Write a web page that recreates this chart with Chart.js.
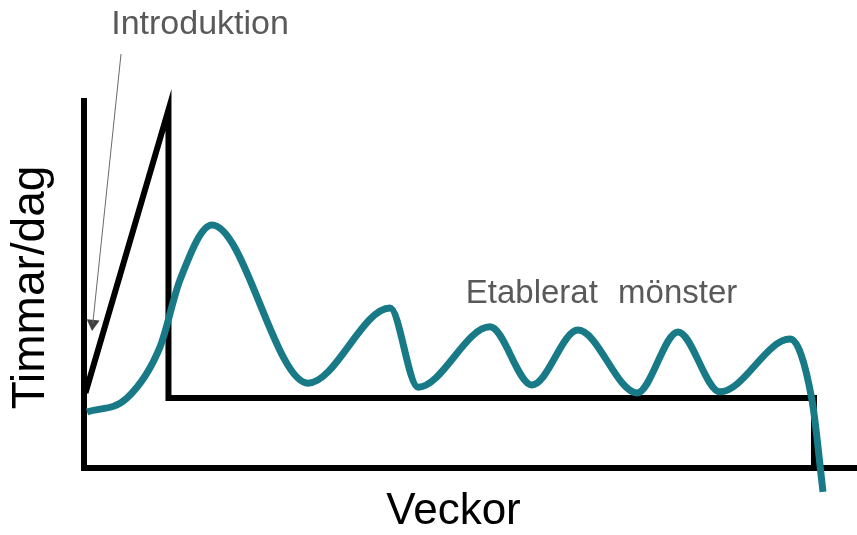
<!DOCTYPE html>
<html><head><meta charset="utf-8">
<script src="https://cdn.jsdelivr.net/npm/chart.js@4"></script>
<style>html,body{margin:0;padding:0;background:#fff}canvas{display:block}</style>
</head><body>
<canvas id="c" width="857" height="535"></canvas>
<script>
const xTitle = 'Veckor';
const yTitle = 'Timmar/dag';
const introLabel = 'Introduktion';
const patternLabel = 'Etablerat mönster';

// Axis frame (weeks / hours)
const axisX = [0, 0, 104.6];
const axisY = [10.25, 0, 0];

// Introduction phase outline
const introX = [0.2, 11.43, 11.43, 98.78, 98.78];
const introY = [2.08, 9.92, 1.94, 1.94, 0];

// Usage curve
const weeks = [0.41, 5.82, 10.28, 12.99, 17.32, 30.31, 41.41, 45.2, 54.94, 60.62, 66.85, 74.83, 80.38, 86.06, 95.53, 98.51, 100.0];
const hours = [1.55, 1.94, 3.35, 5.21, 6.73, 2.35, 4.43, 2.24, 3.91, 2.30, 3.82, 2.08, 3.77, 2.11, 3.57, 1.88, -0.66];

// Arrow from the "Introduktion" label
const arrowX = [5.01, 1.19];
const arrowY = [11.47, 4.0];

const zip = (xs, ys) => xs.map((v, i) => ({x: v, y: ys[i]}));
const FAMILY = '"Liberation Sans", Arial, Helvetica, sans-serif';

const notes = {
  id: 'notes',
  afterDatasetsDraw(chart) {
    const {ctx, scales: {x, y}} = chart;
    ctx.save();
    ctx.fillStyle = '#595959';
    ctx.textAlign = 'center';
    ctx.textBaseline = 'alphabetic';
    ctx.font = '34px ' + FAMILY;
    ctx.fillText(introLabel, x.getPixelForValue(15.7), y.getPixelForValue(12.01));
    ctx.font = '33px ' + FAMILY;
    if ('wordSpacing' in ctx) ctx.wordSpacing = '11px';
    ctx.fillText(patternLabel, x.getPixelForValue(70.03), y.getPixelForValue(4.56));
    ctx.restore();
  }
};

new Chart(document.getElementById('c'), {
  type: 'scatter',
  data: {
    datasets: [
      {
        data: zip(weeks, hours), showLine: true, order: 0, clip: false,
        borderColor: '#177a86', borderWidth: 7, pointRadius: 0,
        cubicInterpolationMode: 'monotone', tension: 0.4, capBezierPoints: false
      },
      {
        data: zip(introX, introY), showLine: true, order: 1, clip: false,
        borderColor: '#000', borderWidth: 6, pointRadius: 0, tension: 0,
        borderJoinStyle: 'miter'
      },
      {
        data: zip(axisX, axisY), showLine: true, order: 2, clip: false,
        borderColor: '#000', borderWidth: 6, pointRadius: 0, tension: 0,
        borderJoinStyle: 'miter'
      },
      {
        data: zip(arrowX, arrowY), showLine: true, order: 3, clip: false,
        borderColor: '#6a6a6a', borderWidth: 1, pointRadius: 0, tension: 0
      },
      {
        data: [zip(arrowX, arrowY)[1]], showLine: false, order: 3, clip: false,
        pointStyle: 'triangle', pointRadius: 7.5, pointRotation: 186,
        backgroundColor: '#404040', borderWidth: 0
      }
    ]
  },
  options: {
    responsive: false,
    animation: false,
    devicePixelRatio: 1,
    layout: {padding: {left: 0, right: 34, top: 107, bottom: 1.3}},
    plugins: {legend: {display: false}, tooltip: {enabled: false}},
    events: [],
    scales: {
      x: {
        type: 'linear', min: 0, max: 100,
        grid: {display: false, drawTicks: false}, border: {display: false},
        ticks: {display: false},
        title: {display: true, text: xTitle, color: '#000',
          font: {family: FAMILY, size: 44, lineHeight: 1}, padding: {top: 21.7, bottom: 0}}
      },
      y: {
        type: 'linear', min: 0, max: 10,
        grid: {display: false, drawTicks: false}, border: {display: false},
        ticks: {display: false},
        title: {display: true, text: yTitle, color: '#000',
          font: {family: FAMILY, size: 46, lineHeight: 1}, padding: {top: 8, bottom: 30}}
      }
    }
  },
  plugins: [notes]
});
</script>
</body></html>
